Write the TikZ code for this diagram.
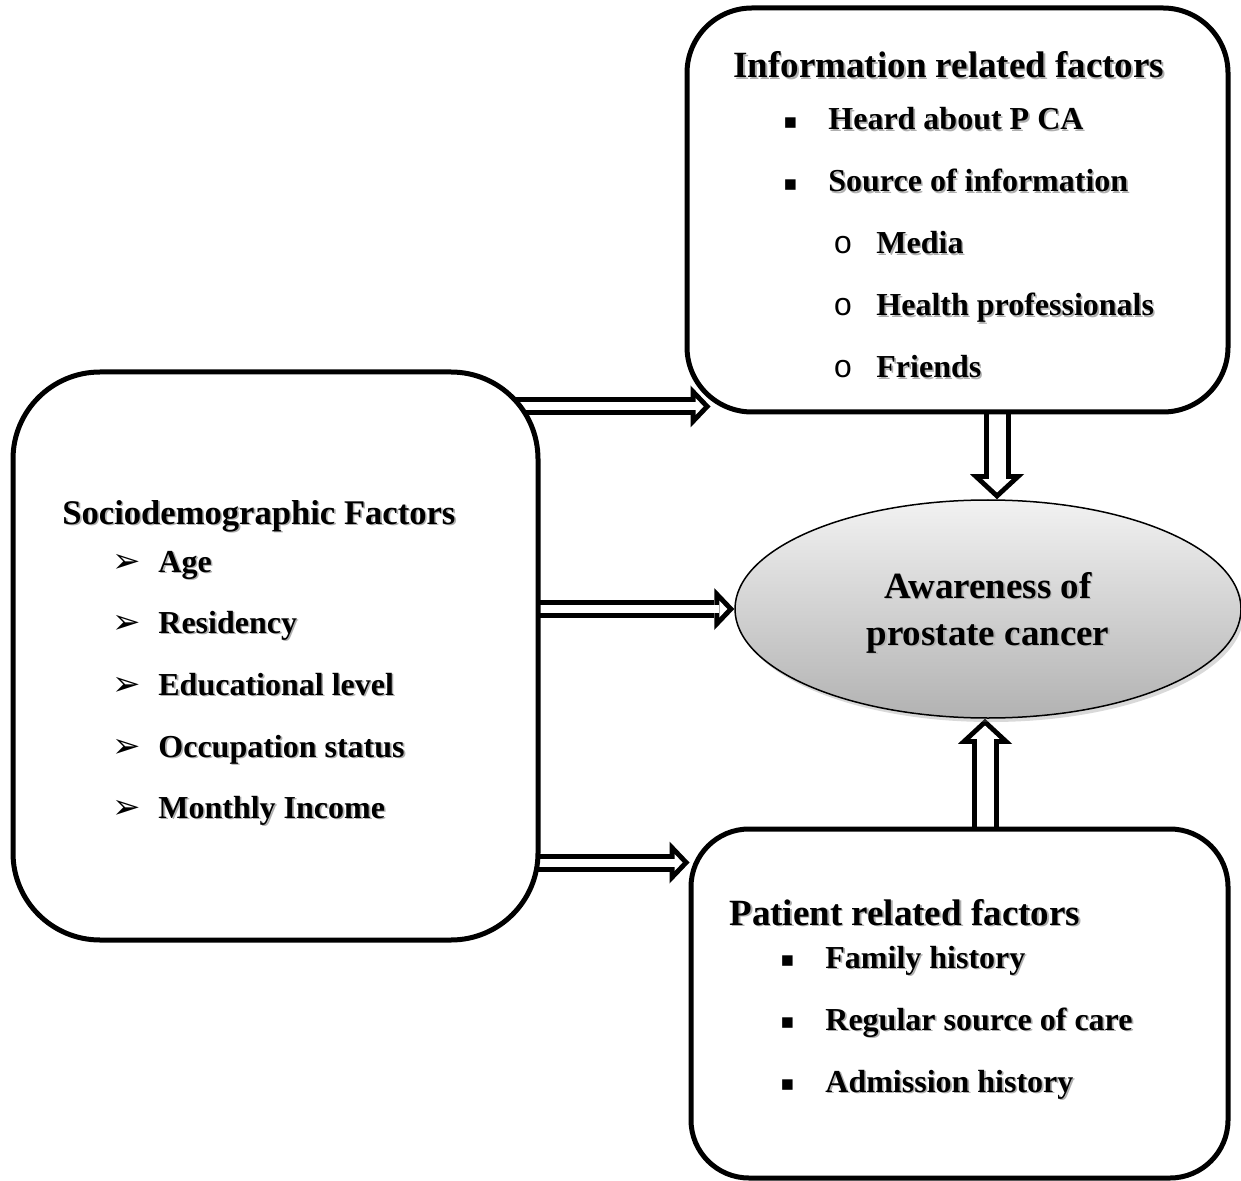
\documentclass[tikz,border=0pt]{standalone}
\usepackage{fontspec}
\setmainfont{Liberation Serif}
\newfontfamily\dingfont{DejaVu Sans}
\newfontfamily\circfont{Liberation Mono}
\usetikzlibrary{positioning,arrows.meta,calc,shapes.geometric,shadows,backgrounds}
\definecolor{ShadowGray}{RGB}{175,175,175}
\definecolor{EllipseTop}{RGB}{242,242,242}
\definecolor{EllipseBottom}{RGB}{178,178,178}
% text with a soft grey shadow
\newcommand{\shd}[1]{\makebox[0pt][l]{\kern0.8pt\raisebox{-0.8pt}{\textcolor{ShadowGray}{#1}}}#1}
\newcommand{\arrbul}{\makebox[23pt][l]{\dingfont\fontsize{17}{17}\selectfont ➢}}
\newcommand{\sqbul}{\makebox[22.5pt][l]{\dingfont\fontsize{10.5}{10.5}\selectfont\raisebox{0.6pt}{▪}}}
\newcommand{\cirbul}{\makebox[21.5pt][l]{\circfont\mdseries o}}

\tikzset{
  factorbox/.style={draw, line width=2.5pt, fill=white, inner sep=0pt},
  headtext/.style={anchor=base west, inner sep=0pt, font=\fontsize{18.5}{22}\selectfont\bfseries},
  itemtext/.style={anchor=base west, inner sep=0pt, font=\fontsize{16}{19}\selectfont\bfseries},
  harrow/.style={line width=9pt, -{Triangle[width=21pt,length=10pt,line width=0pt]},
    postaction={draw, white, line width=4pt, shorten >=3.5pt,
      -{Triangle[width=8.5pt,length=4pt,line width=0pt]}}},
  varrow/.style={line width=13.5pt, -{Triangle[width=27pt,length=12.5pt,line width=0pt]},
    postaction={draw, white, line width=8.5pt, shorten >=3.4pt,
      -{Triangle[width=14.3pt,length=6.6pt,line width=0pt]}}}
}

\begin{document}
\begin{tikzpicture}[x=0.5pt, y=-0.5pt]
  \useasboundingbox (0,0) rectangle (1241,1181);

  % the three groups of factors
  \node[factorbox, rounded corners=43.5pt, minimum width=262.5pt,
        minimum height=284pt] (socio) at (275.5,656) {};
  \node[factorbox, rounded corners=32.5pt, minimum width=270.5pt,
        minimum height=202pt] (info) at (957.5,210) {};
  \node[factorbox, rounded corners=29pt, minimum width=268.5pt,
        minimum height=174.5pt] (patient) at (959.5,1003.5) {};

  % outcome
  \node[ellipse, draw, line width=0.75pt, inner sep=0pt, minimum width=253pt,
        minimum height=109pt, top color=EllipseTop, bottom color=EllipseBottom,
        drop shadow={shadow xshift=1.5pt, shadow yshift=-2pt, opacity=0.3}]
        (aware) at (988,609) {};
  \node[headtext, anchor=base] (awareA) at (988,598) {\shd{Awareness of}};
  \node[headtext, anchor=base] (awareB) at (988,645) {\shd{prostate cancer}};

  % sociodemographic
  \node[headtext, font=\fontsize{17.3}{21}\selectfont\bfseries] (socioT) at (62,524)
        {\shd{Sociodemographic Factors}};
  \node[itemtext] (socioA) at (112,572) {\arrbul\shd{Age}};
  \node[itemtext] (socioB) at (112,633) {\arrbul\shd{Residency}};
  \node[itemtext] (socioC) at (112,695) {\arrbul\shd{Educational level}};
  \node[itemtext] (socioD) at (112,757) {\arrbul\shd{Occupation status}};
  \node[itemtext] (socioE) at (112,818) {\arrbul\shd{Monthly Income}};

  % information
  \node[headtext] (infoT) at (733,78) {\shd{Information related factors}};
  \node[itemtext] (infoA) at (783,130) {\sqbul\shd{Heard about P CA}};
  \node[itemtext] (infoB) at (783,192) {\sqbul\shd{Source of information}};
  \node[itemtext] (infoC) at (833,254) {\cirbul\shd{Media}};
  \node[itemtext] (infoD) at (833,316) {\cirbul\shd{Health professionals}};
  \node[itemtext] (infoE) at (833,378) {\cirbul\shd{Friends}};

  % patient
  \node[headtext] (patT) at (729,925) {\shd{Patient related factors}};
  \node[itemtext] (patA) at (780,968) {\sqbul\shd{Family history}};
  \node[itemtext] (patB) at (780,1030) {\sqbul\shd{Regular source of care}};
  \node[itemtext] (patC) at (780,1092) {\sqbul\shd{Admission history}};

  % block arrows
  \coordinate (infotip) at ($(info.south west)+(26,-8)$);
  \coordinate (pattip) at ($(patient.north west)+(1,36)$);
  \coordinate (awtop) at ($(aware.north)+(9,0)$);
  \coordinate (awbot) at ($(aware.south)+(-3,0)$);
  \begin{scope}[on background layer]
    \draw[harrow] (socio.center |- infotip) -- (infotip);
    \draw[harrow] (socio.center |- aware.west) -- (aware.west);
    \draw[harrow] (socio.center |- pattip) -- (pattip);
    \draw[varrow] (awtop |- info.center) -- (awtop);
    \draw[varrow] (awbot |- patient.center) -- (awbot);
  \end{scope}
\end{tikzpicture}
\end{document}
